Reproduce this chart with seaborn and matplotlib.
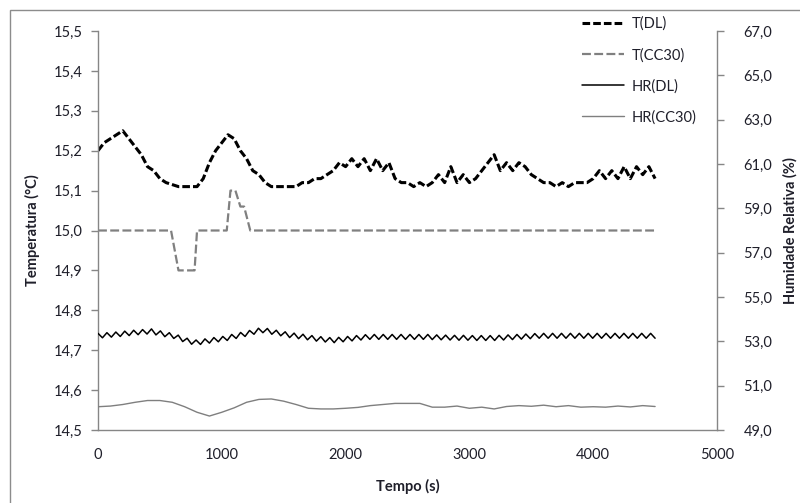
import numpy as np
import pandas as pd
import seaborn as sns
import matplotlib.pyplot as plt
from matplotlib.ticker import FuncFormatter, MultipleLocator, FixedLocator
from matplotlib.patches import Rectangle
from matplotlib.lines import Line2D

# data (time in s)
t_dl = np.arange(0, 4501, 50)
temp_dl = [15.20, 15.22, 15.23, 15.24, 15.25, 15.23, 15.21, 15.19, 15.16, 15.15,
           15.13, 15.12, 15.115, 15.11, 15.11, 15.11, 15.11, 15.13, 15.17, 15.20,
           15.22, 15.24, 15.23, 15.20, 15.18, 15.15, 15.14, 15.12, 15.11, 15.11,
           15.11, 15.11, 15.11, 15.12, 15.12, 15.13, 15.13, 15.14, 15.15, 15.17,
           15.16, 15.18, 15.16, 15.18, 15.15, 15.18, 15.15, 15.17, 15.13, 15.12,
           15.12, 15.11, 15.12, 15.11, 15.12, 15.14, 15.12, 15.16, 15.12, 15.14,
           15.12, 15.13, 15.15, 15.17, 15.19, 15.15, 15.17, 15.15, 15.17, 15.16,
           15.14, 15.13, 15.12, 15.12, 15.11, 15.12, 15.11, 15.12, 15.12, 15.12,
           15.13, 15.15, 15.13, 15.15, 15.13, 15.16, 15.13, 15.16, 15.14, 15.16,
           15.13]

t_cc = [0, 590, 650, 780, 800, 1040, 1070, 1110, 1150, 1180, 1230, 4500]
temp_cc = [15.0, 15.0, 14.9, 14.9, 15.0, 15.0, 15.1, 15.1, 15.06, 15.06, 15.0, 15.0]

t_hr_dl = np.arange(0, 4501, 36)
hr_dl = [53.36, 53.16, 53.39, 53.19, 53.42, 53.22, 53.46, 53.26, 53.50, 53.30,
         53.53, 53.33, 53.56, 53.29, 53.47, 53.21, 53.39, 53.13, 53.28, 52.99,
         53.14, 52.87, 53.06, 52.86, 53.11, 52.92, 53.17, 52.98, 53.22, 53.04,
         53.31, 53.13, 53.40, 53.22, 53.49, 53.32, 53.59, 53.39, 53.58, 53.32,
         53.50, 53.25, 53.43, 53.17, 53.37, 53.12, 53.32, 53.07, 53.26, 53.01,
         53.21, 52.97, 53.17, 52.94, 53.18, 52.98, 53.22, 53.02, 53.26, 53.06,
         53.30, 53.09, 53.31, 53.09, 53.31, 53.09, 53.31, 53.09, 53.31, 53.09,
         53.31, 53.09, 53.31, 53.09, 53.31, 53.08, 53.29, 53.07, 53.28, 53.06,
         53.27, 53.05, 53.27, 53.05, 53.26, 53.04, 53.26, 53.04, 53.26, 53.04,
         53.27, 53.06, 53.29, 53.08, 53.31, 53.10, 53.33, 53.12, 53.35, 53.14,
         53.36, 53.14, 53.36, 53.14, 53.36, 53.14, 53.36, 53.14, 53.36, 53.14,
         53.36, 53.14, 53.36, 53.14, 53.36, 53.14, 53.36, 53.14, 53.36, 53.14,
         53.36, 53.14, 53.36, 53.14, 53.36, 53.14]

t_hr_cc = np.arange(0, 4501, 100)
hr_cc = [50.05, 50.08, 50.15, 50.25, 50.33, 50.33, 50.25, 50.05, 49.80, 49.63,
         49.80, 50.00, 50.25, 50.38, 50.40, 50.30, 50.15, 49.98, 49.95, 49.95,
         49.98, 50.02, 50.10, 50.15, 50.20, 50.20, 50.20, 50.03, 50.03, 50.08,
         49.98, 50.03, 49.95, 50.06, 50.10, 50.07, 50.12, 50.05, 50.10, 50.03,
         50.05, 50.03, 50.08, 50.04, 50.10, 50.06]

hr_ticks = [49, 51, 53, 55, 57, 59, 61, 63, 65, 67]

sns.set_style("white")
plt.rcParams['font.family'] = ['Lato', 'DejaVu Sans']

spine_col = '#868686'
text_col = '#1f1f2a'

fig = plt.figure(figsize=(8, 5.03), dpi=100)
ax = fig.add_axes([98 / 800, 1 - 430 / 503, (717 - 98) / 800, (430 - 31) / 503])
ax2 = ax.twinx()

sns.lineplot(x=t_dl, y=temp_dl, ax=ax, color='black', lw=2.2, estimator=None)
ax.lines[-1].set_dashes((2.5, 1))
sns.lineplot(x=t_cc, y=temp_cc, ax=ax, color='#808080', lw=1.6, estimator=None)
ax.lines[-1].set_dashes((4, 1.5))
sns.lineplot(x=t_hr_dl, y=hr_dl, ax=ax2, color='black', lw=1.1, estimator=None)
sns.lineplot(x=t_hr_cc, y=hr_cc, ax=ax2, color='#7f7f7f', lw=1.0, estimator=None)

comma = FuncFormatter(lambda v, p: f"{v:.1f}".replace('.', ','))

ax.set_xlim(0, 5000)
ax.set_ylim(14.5, 15.5)
ax.yaxis.set_major_locator(MultipleLocator(0.1))
ax.yaxis.set_major_formatter(comma)
ax.xaxis.set_major_locator(MultipleLocator(1000))
ax2.set_ylim(49, 67)
ax2.yaxis.set_major_locator(FixedLocator(hr_ticks))
ax2.yaxis.set_major_formatter(comma)

for a in (ax, ax2):
    a.spines['top'].set_visible(False)
    for side in ('left', 'right', 'bottom'):
        a.spines[side].set_color(spine_col)
        a.spines[side].set_linewidth(1.0)
    a.tick_params(colors=spine_col, labelcolor=text_col, labelsize=10.5,
                  length=5, width=1, direction='out', pad=6)
    a.set_xlabel('')
    a.set_ylabel('')
ax.spines['right'].set_visible(False)
ax2.spines['left'].set_visible(False)
ax2.spines['bottom'].set_visible(False)
ax.tick_params(axis='x', pad=8)
ax2.tick_params(axis='y', pad=14)

ax.set_xlabel('Tempo (s)', fontsize=10.5, fontweight='bold', color=text_col, labelpad=12)
ax.set_ylabel('Temperatura (°C)', fontsize=10.5, fontweight='bold', color=text_col, labelpad=10)
ax2.set_ylabel('Humidade Relativa (%)', fontsize=10.5, fontweight='bold', color=text_col,
               rotation=90, labelpad=8)

handles = [
    Line2D([], [], color='black', lw=2.2, dashes=(2.5, 1)),
    Line2D([], [], color='#808080', lw=1.6, dashes=(4, 1.5)),
    Line2D([], [], color='black', lw=1.1),
    Line2D([], [], color='#7f7f7f', lw=1.0),
]
labels = ['T(DL)', 'T(CC30)', 'HR(DL)', 'HR(CC30)']
fig.legend(handles, labels, loc='upper left', bbox_to_anchor=(576 / 800, 1 - 11 / 503),
           frameon=False, fontsize=10.5, labelspacing=1.15, handlelength=2.9,
           handletextpad=0.5, labelcolor=text_col, borderaxespad=0)

fig.add_artist(Rectangle((10 / 800, -0.05), 1.0, 1 - 10 / 503 + 0.05,
                         transform=fig.transFigure, fill=False,
                         edgecolor='#8c8c8c', lw=1.0))

fig.savefig('out.png', dpi=100)
